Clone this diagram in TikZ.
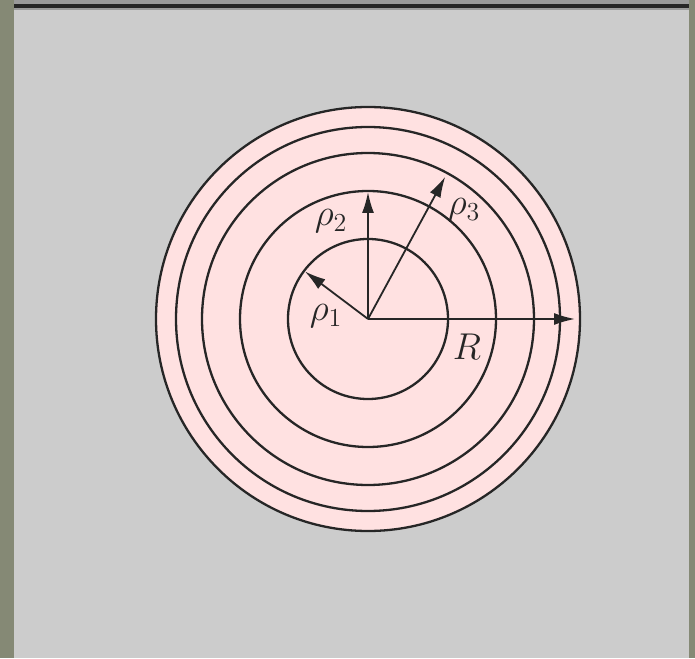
\documentclass[tikz,border=0pt]{standalone}
\usetikzlibrary{arrows.meta, positioning}
\definecolor{cframe}{HTML}{858975}
\definecolor{cpanel}{HTML}{CCCCCC}
\definecolor{cdisc}{HTML}{FFE1E1}
\definecolor{cink}{HTML}{262626}
\definecolor{ctop}{HTML}{9A9A9A}
\tikzset{
  every picture/.style={x=1pt, y=1pt},
  ring/.style={draw=cink, line width=2.3pt},
  radius arrow/.style={-{Latex[length=21pt, width=12pt]}, draw=cink, line width=1.8pt},
  lbl/.style={font=\huge, scale=1.8, text=cink, inner sep=0pt},
}
\begin{document}
\begin{tikzpicture}
  % frame and panel
  \useasboundingbox (-368,-339) rectangle (327,319);
  \fill[cframe] (-368,-339) rectangle (327,319);
  \fill[cpanel] (-354,-339) rectangle (321,309);
  \fill[ctop] (-354,319) rectangle (321,309);
  \fill[cink] (-354,315) rectangle (321,311);
  % disc
  \fill[cdisc] (0,0) circle (212);
  \foreach \r in {80,128,166,192,212}
    \draw[ring] (0,0) circle (\r);
  \coordinate (O) at (0,0);
  \coordinate (t1) at (143:79);
  \coordinate (t2) at (90:127);
  \coordinate (t3) at (61.5:162);
  \coordinate (tR) at (0:207);
  \foreach \t in {t1, t2, t3, tR}
    \draw[radius arrow] (O) -- (\t);
  \node[lbl] (rho1) at (-42,3) {$\rho_1$};
  \node[lbl] (rho2) at (-37,98) {$\rho_2$};
  \node[lbl] (rho3) at (96,109) {$\rho_3$};
  \node[lbl] (R) at (99,-28) {$R$};
\end{tikzpicture}
\end{document}
